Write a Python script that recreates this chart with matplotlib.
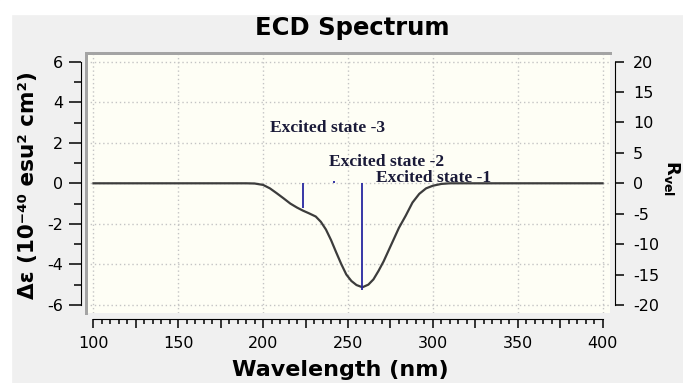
import matplotlib
matplotlib.use('Agg')
import matplotlib.pyplot as plt
from matplotlib.ticker import MultipleLocator, FuncFormatter
from matplotlib.patches import Rectangle

plt.rcParams['axes.unicode_minus'] = False

# ECD curve (wavelength in nm, delta epsilon)
wavelength = [100, 190, 195, 200, 204, 208, 212, 216, 220, 223.5, 227, 231, 234, 237,
              240, 243, 246, 249, 252, 255, 258.5, 262, 265, 268, 271, 274, 277, 280,
              284, 288, 292, 296, 300, 305, 310, 400]
delta_eps = [0, 0, -0.01, -0.08, -0.25, -0.49, -0.74, -1.0, -1.2, -1.35, -1.48, -1.64, -1.9, -2.28,
             -2.8, -3.4, -3.98, -4.5, -4.82, -5.02, -5.13, -5.0, -4.74, -4.32, -3.85, -3.3, -2.75, -2.2,
             -1.6, -0.95, -0.52, -0.25, -0.12, -0.03, 0, 0]

# excited states (stick spectrum, right axis)
state_nm = [258.5, 242.0, 223.5]
state_rvel = [-17.5, 0.4, -4.1]
state_labels = ['Excited state -1', 'Excited state -2', 'Excited state -3']

W, H = 683, 383
PT = 0.72  # points per pixel at 100 dpi


def box(l, t, r, b):
    return [l / W, 1 - b / H, (r - l) / W, (b - t) / H]


fig = plt.figure(figsize=(6.83, 3.83), dpi=100, facecolor='#f0f0f0')
fig.add_artist(Rectangle((0, 1 - 14 / H), 1, 14 / H, transform=fig.transFigure,
                         color='white', zorder=0))
fig.add_artist(Rectangle((0, 0), 11 / W, 1, transform=fig.transFigure,
                         color='white', zorder=0))

ax = fig.add_axes(box(86, 53, 610, 313))
ax.set_facecolor('#fefef5')
ax.set_xlim(95.6, 404.4)
ax.set_ylim(-6.40, 6.43)

# dotted grid
for gx in range(100, 401, 50):
    ax.axvline(gx, color='#c4c4c4', lw=1, ls=(0, (1, 2)), zorder=1)
for gy in range(-6, 7, 2):
    ax.axhline(gy, color='#c4c4c4', lw=1, ls=(0, (1, 2)), zorder=1)

# sunken frame look
ax.plot([0, 1], [1, 1], transform=ax.transAxes, color='#a4a4a4', lw=3 * PT, clip_on=False, zorder=3)
ax.plot([0, 0], [0, 1], transform=ax.transAxes, color='#a4a4a4', lw=3 * PT, clip_on=False, zorder=3)

ax.plot(wavelength, delta_eps, color='#3c3c3c', lw=1.6, zorder=4)

label_pos = [(266.7, 0.06), (238.8, 0.85), (203.9, 2.55)]
for (lx, ly), txt in zip(label_pos, state_labels):
    ax.text(lx, ly, txt, family='Liberation Serif', fontweight='bold', fontsize=12.6,
            color='#1a1a38', va='baseline', ha='left', zorder=5)

for s in ['top', 'right']:
    ax.spines[s].set_visible(False)
ax.spines['left'].set_position(('outward', 5 * PT))
ax.spines['left'].set_bounds(-6, 6)
ax.spines['bottom'].set_position(('outward', 5.5 * PT))
ax.spines['bottom'].set_bounds(100, 400)

ax.yaxis.set_major_locator(MultipleLocator(2))
ax.yaxis.set_minor_locator(MultipleLocator(1))
ax.xaxis.set_major_locator(MultipleLocator(25))
ax.xaxis.set_minor_locator(MultipleLocator(5))
ax.xaxis.set_major_formatter(FuncFormatter(lambda v, p: f'{v:.0f}' if v % 50 == 0 else ''))

ax.tick_params(axis='y', which='major', direction='out', length=12 * PT, width=1.1, pad=4, labelsize=11.5)
ax.tick_params(axis='y', which='minor', direction='out', length=7 * PT, width=1.1)
ax.tick_params(axis='x', which='major', direction='out', length=9 * PT, width=1.1, pad=6, labelsize=11.5)
ax.tick_params(axis='x', which='minor', direction='out', length=5 * PT, width=1.1)

# right axis: rotatory strength
ax2 = ax.twinx()
ax2.set_ylim(-21.33, 21.43)
for s in ['top', 'left', 'bottom']:
    ax2.spines[s].set_visible(False)
ax2.spines['right'].set_position(('outward', 4.5 * PT))
ax2.spines['right'].set_bounds(-20, 20)
ax2.yaxis.set_major_locator(MultipleLocator(5))
ax2.tick_params(axis='y', direction='out', length=9 * PT, width=1.1, pad=7, labelsize=11.5)
ax2.vlines(state_nm, 0, state_rvel, color='#2828a0', lw=1.3)

fig.text(352.5 / W, 1 - 28 / H, 'ECD Spectrum', ha='center', va='center',
         fontsize=17.5, fontweight='bold')
fig.text(340 / W, 1 - 370 / H, 'Wavelength (nm)', ha='center', va='center',
         fontsize=16, fontweight='bold')
fig.text(28 / W, 1 - 185 / H, 'Δε (10⁻⁴⁰ esu² cm²)', ha='center', va='center',
         rotation=90, fontsize=15.5, fontweight='bold')
fig.text(672 / W, 1 - 178 / H, r'$\mathbf{R_{vel}}$', ha='center', va='center',
         rotation=-90, fontsize=13)

fig.savefig('out.png', dpi=100, facecolor=fig.get_facecolor())
